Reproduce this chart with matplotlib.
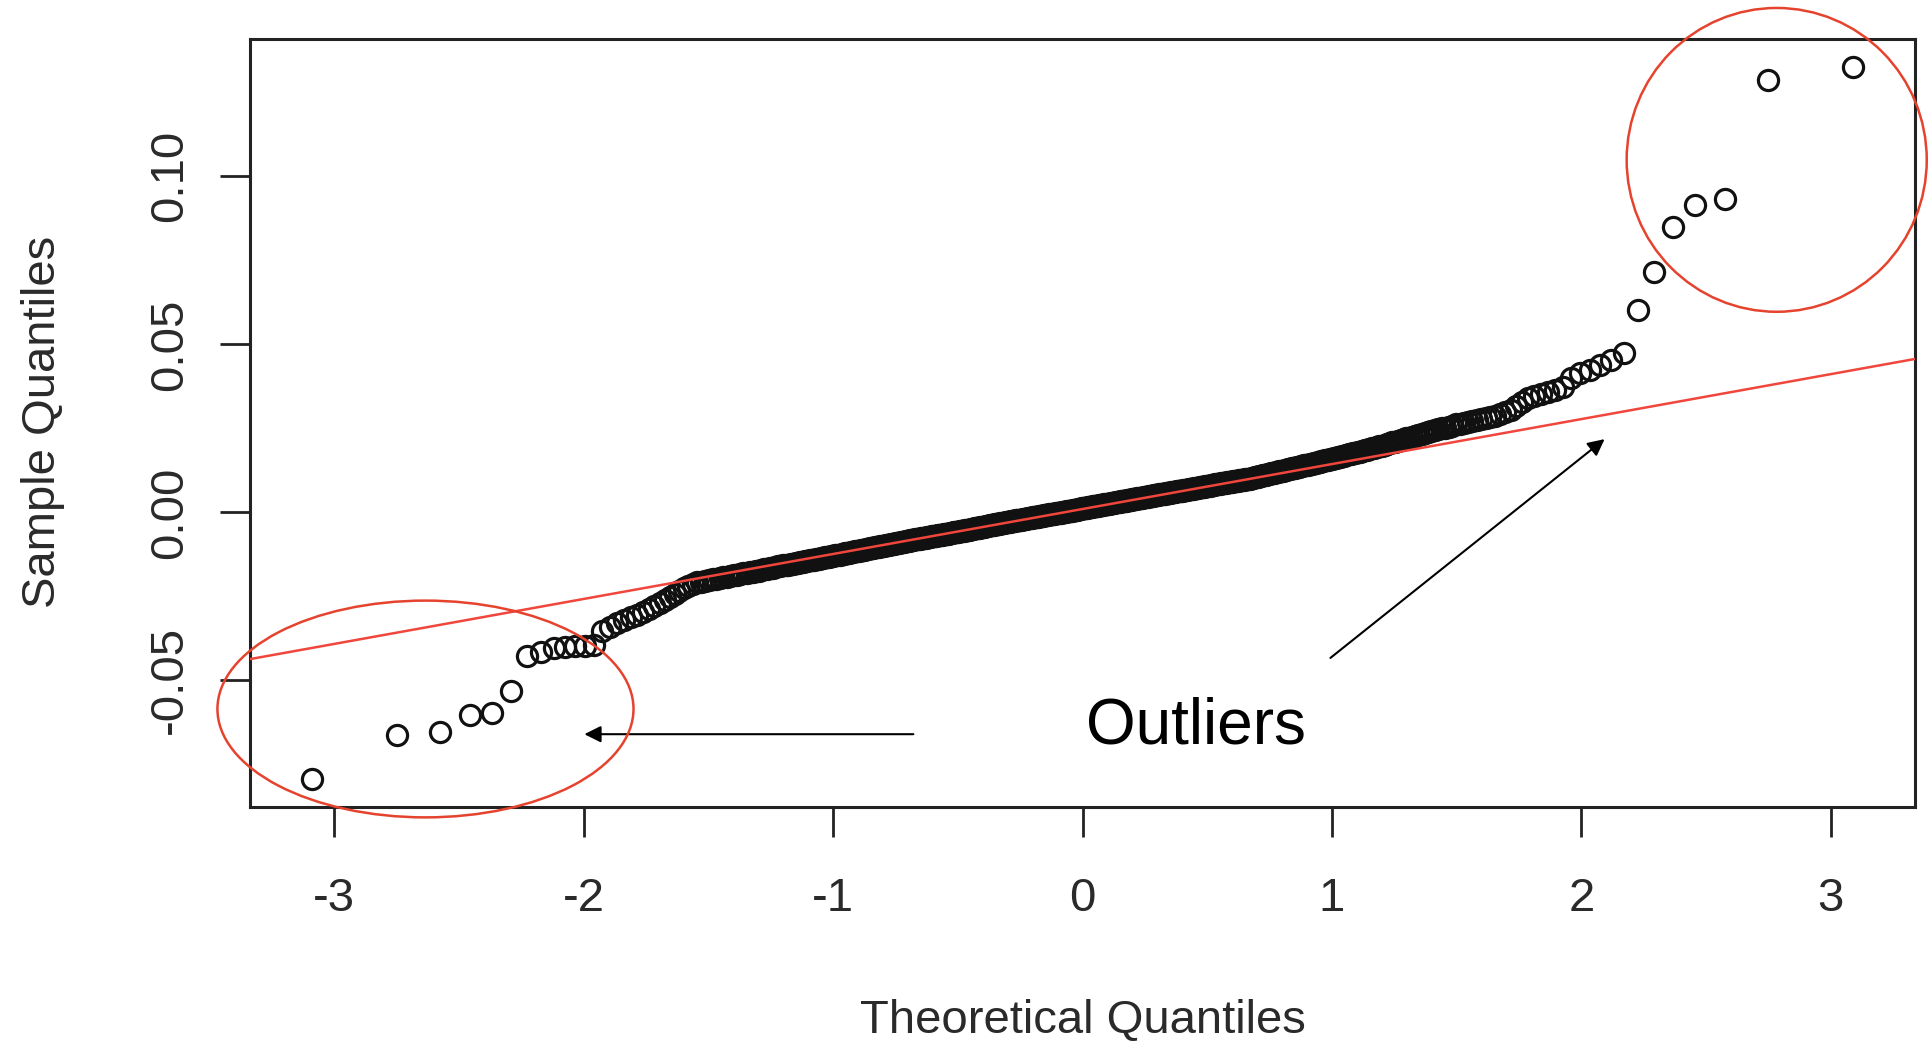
import numpy as np
import matplotlib
matplotlib.use("Agg")
import matplotlib.pyplot as plt
from matplotlib.patches import Ellipse
from statistics import NormalDist

plt.rcParams['font.family'] = ['Liberation Sans', 'DejaVu Sans']

# sorted daily returns (sample quantiles)
returns = [
    -0.0792, -0.0663, -0.0654, -0.0604, -0.0598, -0.0531, -0.0428, -0.0415, -0.0405, -0.0401,
    -0.0399, -0.0397, -0.0394, -0.0352, -0.0340, -0.0330, -0.0320, -0.0312, -0.0304, -0.0296,
    -0.0288, -0.0279, -0.0270, -0.0261, -0.0252, -0.0243, -0.0234, -0.0226, -0.0219, -0.0213,
    -0.0208, -0.0206, -0.0204, -0.0202, -0.0199, -0.0197, -0.0195, -0.0193, -0.0191, -0.0189,
    -0.0187, -0.0185, -0.0183, -0.0181, -0.0180, -0.0178, -0.0176, -0.0174, -0.0173, -0.0171,
    -0.0169, -0.0168, -0.0166, -0.0165, -0.0163, -0.0161, -0.0160, -0.0158, -0.0157, -0.0156,
    -0.0154, -0.0153, -0.0151, -0.0150, -0.0148, -0.0147, -0.0146, -0.0145, -0.0143, -0.0142,
    -0.0141, -0.0139, -0.0138, -0.0137, -0.0136, -0.0134, -0.0133, -0.0132, -0.0131, -0.0130,
    -0.0128, -0.0127, -0.0126, -0.0125, -0.0123, -0.0122, -0.0121, -0.0120, -0.0119, -0.0117,
    -0.0116, -0.0115, -0.0114, -0.0113, -0.0112, -0.0111, -0.0110, -0.0109, -0.0107, -0.0106,
    -0.0105, -0.0104, -0.0103, -0.0102, -0.0101, -0.0100, -0.0099, -0.0098, -0.0097, -0.0096,
    -0.0095, -0.0094, -0.0093, -0.0092, -0.0091, -0.0090, -0.0089, -0.0088, -0.0087, -0.0086,
    -0.0085, -0.0084, -0.0083, -0.0082, -0.0081, -0.0080, -0.0079, -0.0079, -0.0078, -0.0077,
    -0.0076, -0.0075, -0.0075, -0.0074, -0.0073, -0.0072, -0.0071, -0.0071, -0.0070, -0.0069,
    -0.0068, -0.0067, -0.0067, -0.0066, -0.0065, -0.0064, -0.0063, -0.0063, -0.0062, -0.0061,
    -0.0060, -0.0059, -0.0059, -0.0058, -0.0057, -0.0056, -0.0055, -0.0055, -0.0054, -0.0053,
    -0.0052, -0.0051, -0.0051, -0.0050, -0.0049, -0.0048, -0.0047, -0.0047, -0.0046, -0.0045,
    -0.0044, -0.0043, -0.0043, -0.0042, -0.0041, -0.0040, -0.0040, -0.0039, -0.0038, -0.0037,
    -0.0037, -0.0036, -0.0035, -0.0034, -0.0034, -0.0033, -0.0032, -0.0031, -0.0031, -0.0030,
    -0.0029, -0.0028, -0.0028, -0.0027, -0.0026, -0.0025, -0.0025, -0.0024, -0.0024, -0.0023,
    -0.0022, -0.0022, -0.0021, -0.0020, -0.0020, -0.0019, -0.0018, -0.0017, -0.0017, -0.0016,
    -0.0015, -0.0015, -0.0014, -0.0013, -0.0013, -0.0012, -0.0011, -0.0010, -0.0010, -0.0009,
    -0.0008, -0.0008, -0.0007, -0.0006, -0.0006, -0.0005, -0.0005, -0.0004, -0.0003, -0.0003,
    -0.0002, -0.0001, -0.0001, 0.0000, 0.0001, 0.0001, 0.0002, 0.0003, 0.0003, 0.0004,
    0.0005, 0.0005, 0.0006, 0.0007, 0.0008, 0.0008, 0.0009, 0.0010, 0.0011, 0.0012,
    0.0012, 0.0013, 0.0014, 0.0014, 0.0015, 0.0016, 0.0016, 0.0017, 0.0018, 0.0018,
    0.0019, 0.0020, 0.0020, 0.0021, 0.0022, 0.0022, 0.0023, 0.0024, 0.0024, 0.0025,
    0.0026, 0.0026, 0.0027, 0.0028, 0.0029, 0.0029, 0.0030, 0.0031, 0.0031, 0.0032,
    0.0033, 0.0033, 0.0034, 0.0035, 0.0035, 0.0036, 0.0037, 0.0038, 0.0038, 0.0039,
    0.0040, 0.0040, 0.0041, 0.0042, 0.0042, 0.0043, 0.0044, 0.0044, 0.0045, 0.0046,
    0.0047, 0.0047, 0.0048, 0.0049, 0.0049, 0.0050, 0.0051, 0.0052, 0.0052, 0.0053,
    0.0054, 0.0054, 0.0055, 0.0056, 0.0056, 0.0057, 0.0058, 0.0059, 0.0059, 0.0060,
    0.0061, 0.0061, 0.0062, 0.0063, 0.0063, 0.0064, 0.0065, 0.0065, 0.0066, 0.0067,
    0.0068, 0.0068, 0.0069, 0.0070, 0.0071, 0.0071, 0.0072, 0.0073, 0.0073, 0.0074,
    0.0075, 0.0076, 0.0076, 0.0077, 0.0078, 0.0079, 0.0079, 0.0080, 0.0081, 0.0081,
    0.0082, 0.0083, 0.0083, 0.0084, 0.0085, 0.0086, 0.0086, 0.0087, 0.0088, 0.0089,
    0.0089, 0.0090, 0.0091, 0.0092, 0.0093, 0.0093, 0.0094, 0.0095, 0.0096, 0.0096,
    0.0097, 0.0098, 0.0099, 0.0099, 0.0100, 0.0101, 0.0102, 0.0104, 0.0105, 0.0106,
    0.0108, 0.0109, 0.0110, 0.0111, 0.0112, 0.0114, 0.0115, 0.0116, 0.0117, 0.0118,
    0.0120, 0.0121, 0.0122, 0.0123, 0.0124, 0.0126, 0.0127, 0.0128, 0.0129, 0.0131,
    0.0132, 0.0133, 0.0134, 0.0136, 0.0137, 0.0138, 0.0140, 0.0141, 0.0142, 0.0144,
    0.0145, 0.0146, 0.0148, 0.0149, 0.0151, 0.0152, 0.0153, 0.0155, 0.0156, 0.0158,
    0.0159, 0.0161, 0.0163, 0.0164, 0.0166, 0.0168, 0.0169, 0.0171, 0.0173, 0.0174,
    0.0176, 0.0178, 0.0180, 0.0181, 0.0183, 0.0185, 0.0187, 0.0189, 0.0191, 0.0193,
    0.0195, 0.0197, 0.0199, 0.0201, 0.0203, 0.0205, 0.0208, 0.0210, 0.0212, 0.0215,
    0.0217, 0.0220, 0.0222, 0.0225, 0.0227, 0.0230, 0.0233, 0.0235, 0.0238, 0.0241,
    0.0244, 0.0247, 0.0250, 0.0252, 0.0255, 0.0258, 0.0262, 0.0264, 0.0267, 0.0270,
    0.0272, 0.0275, 0.0278, 0.0281, 0.0285, 0.0288, 0.0292, 0.0298, 0.0306, 0.0316,
    0.0328, 0.0340, 0.0346, 0.0352, 0.0358, 0.0364, 0.0372, 0.0399, 0.0414, 0.0424,
    0.0439, 0.0454, 0.0474, 0.0603, 0.0714, 0.0849, 0.0916, 0.0934, 0.1288, 0.1324,
]

xticks = [-3, -2, -1, 0, 1, 2, 3]
xtick_labels = ['-3', '-2', '-1', '0', '1', '2', '3']
yticks = [-0.05, 0.00, 0.05, 0.10]
ytick_labels = ['-0.05', '0.00', '0.05', '0.10']

# annotation placement (data units)
left_ring = (-2.634, -0.0585, 1.668, 0.0645)   # centre x, centre y, width, height
right_ring = (2.783, 0.1049, 1.203, 0.0904)
left_arrow = ((-0.678, -0.066), (-1.997, -0.066))   # tail, head
right_arrow = ((0.994, -0.0433), (2.093, 0.0218))
label_pos = (0.453, -0.0687)

# normal scores like R's qqnorm: ppoints(n) = (i - 0.5) / n
y = np.sort(np.array(returns))
n = len(y)
nd = NormalDist()
x = np.array([nd.inv_cdf((i - 0.5) / n) for i in range(1, n + 1)])

# qqline through the first and third quartiles
yq = np.quantile(y, [0.25, 0.75])
xq = np.array([nd.inv_cdf(0.25), nd.inv_cdf(0.75)])
slope = (yq[1] - yq[0]) / (xq[1] - xq[0])
intercept = yq[0] - slope * xq[0]

W, H = 1929, 1050
fig = plt.figure(figsize=(W / 100, H / 100), dpi=100)
ax = fig.add_axes([250 / W, 243 / H, 1665 / W, 768 / H])

ax.plot(x, y, 'o', mfc='none', mec='#111111', ms=14.5, mew=2.3, zorder=2)
ax.axline((0, intercept), slope=slope, color='#f0463c', lw=1.8, zorder=3)

# R pads the range by 4% on each side
xr = x.max() - x.min()
yr = y.max() - y.min()
ax.set_xlim(x.min() - 0.04 * xr, x.max() + 0.04 * xr)
ax.set_ylim(y.min() - 0.04 * yr, y.max() + 0.04 * yr)

for s in ax.spines.values():
    s.set_linewidth(2.2)
    s.set_color('#222222')

ax.set_xticks(xticks)
ax.set_xticklabels(xtick_labels)
ax.set_yticks(yticks)
ax.set_yticklabels(ytick_labels, rotation=90, va='center')
ax.tick_params(axis='both', length=21.6, width=2.0, color='#222222',
               labelsize=34, labelcolor='#2a2a2a')
ax.tick_params(axis='x', pad=29)
ax.tick_params(axis='y', pad=20)

fig.text(1082.5 / W, 1 - 1033 / H, 'Theoretical Quantiles', ha='center', va='baseline',
         fontsize=34, color='#2a2a2a')
fig.text(43 / W, 1 - 421.5 / H, 'Sample Quantiles', ha='center', va='center',
         rotation=90, fontsize=34, color='#2a2a2a')

# outlier markup
ring_color = '#e5432e'
for cx, cy, w, h in (left_ring, right_ring):
    ax.add_patch(Ellipse((cx, cy), w, h, fill=False, ec=ring_color, lw=1.8,
                         clip_on=False, zorder=5))

for tail, head in (left_arrow, right_arrow):
    ax.annotate('', xy=head, xytext=tail, annotation_clip=False,
                arrowprops=dict(arrowstyle='-|>', color='black', lw=1.5,
                                mutation_scale=25, shrinkA=0, shrinkB=0))

ax.text(label_pos[0], label_pos[1], 'Outliers', ha='center', va='baseline',
        fontsize=46, color='black')

fig.savefig('out.png', dpi=100, facecolor='white')
